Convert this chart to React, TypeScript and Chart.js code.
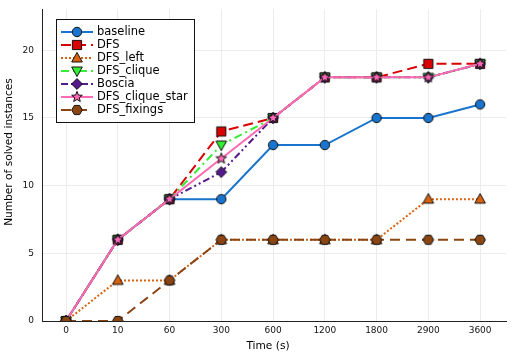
import React, { useEffect, useRef } from "react";
import { Chart, registerables } from "chart.js";

Chart.register(...registerables);

const timeLabels = ["0", "10", "60", "300", "600", "1200", "1800", "2900", "3600"];
const yTickValues = [0, 5, 10, 15, 20];

const seriesNames = ["baseline", "DFS", "DFS_left", "DFS_clique", "Boscia", "DFS_clique_star", "DFS_fixings"];
const baseline = [0, 6, 9, 9, 13, 13, 15, 15, 16];
const dfs = [0, 6, 9, 14, 15, 18, 18, 19, 19];
const dfsLeft = [0, 3, 3, 6, 6, 6, 6, 9, 9];
const dfsClique = [0, 6, 9, 13, 15, 18, 18, 18, 19];
const boscia = [0, 6, 9, 11, 15, 18, 18, 18, 19];
const dfsCliqueStar = [0, 6, 9, 12, 15, 18, 18, 18, 19];
const dfsFixings = [0, 0, 3, 6, 6, 6, 6, 6, 6];

const seriesValues = [baseline, dfs, dfsLeft, dfsClique, boscia, dfsCliqueStar, dfsFixings];
const seriesColors = ["#1874cd", "#d90000", "#d9620f", "#33ee33", "#551a8b", "#ff69b4", "#8b4513"];
const seriesDashes: number[][] = [[], [10, 5], [2, 2], [8, 4, 2, 4], [7, 3, 2, 3, 2, 3], [], [10, 6]];
const seriesMarkers = ["circle", "square", "utriangle", "dtriangle", "diamond", "star5", "hexagon"];

const FONT = "'DejaVu Sans', sans-serif";

function drawMarker(ctx: CanvasRenderingContext2D, shape: string, x: number, y: number, fill: string) {
  ctx.save();
  ctx.beginPath();
  if (shape === "circle") {
    ctx.arc(x, y, 4.7, 0, Math.PI * 2);
  } else if (shape === "square") {
    ctx.rect(x - 4.6, y - 4.6, 9.2, 9.2);
  } else if (shape === "utriangle") {
    ctx.moveTo(x, y - 5.6);
    ctx.lineTo(x + 5.3, y + 4);
    ctx.lineTo(x - 5.3, y + 4);
    ctx.closePath();
  } else if (shape === "dtriangle") {
    ctx.moveTo(x, y + 5.6);
    ctx.lineTo(x + 5.3, y - 4);
    ctx.lineTo(x - 5.3, y - 4);
    ctx.closePath();
  } else if (shape === "diamond") {
    ctx.moveTo(x, y - 5.4);
    ctx.lineTo(x + 5.4, y);
    ctx.lineTo(x, y + 5.4);
    ctx.lineTo(x - 5.4, y);
    ctx.closePath();
  } else if (shape === "star5") {
    for (let k = 0; k < 10; k++) {
      const r = k % 2 === 0 ? 5.6 : 2.4;
      const a = -Math.PI / 2 + (k * Math.PI) / 5;
      const px = x + r * Math.cos(a);
      const py = y + r * Math.sin(a);
      if (k === 0) ctx.moveTo(px, py);
      else ctx.lineTo(px, py);
    }
    ctx.closePath();
  } else if (shape === "hexagon") {
    for (let k = 0; k < 6; k++) {
      const a = (k * Math.PI) / 3;
      const px = x + 5.3 * Math.cos(a);
      const py = y + 5.3 * Math.sin(a);
      if (k === 0) ctx.moveTo(px, py);
      else ctx.lineTo(px, py);
    }
    ctx.closePath();
  }
  ctx.fillStyle = fill;
  ctx.fill();
  ctx.lineWidth = 1;
  ctx.strokeStyle = "#111";
  ctx.stroke();
  ctx.restore();
}

function makeMarkerImage(shape: string, fill: string): HTMLCanvasElement {
  const c = document.createElement("canvas");
  c.width = 16;
  c.height = 16;
  const ctx = c.getContext("2d")!;
  drawMarker(ctx, shape, 8, 8, fill);
  return c;
}

const overlayPlugin = {
  id: "overlay",
  afterDraw(chart: any) {
    const ctx: CanvasRenderingContext2D = chart.ctx;
    const imgs: HTMLCanvasElement[] = chart.options.plugins.overlay.images;
    // axis titles
    ctx.save();
    ctx.fillStyle = "#000";
    ctx.font = `10.6px ${FONT}`;
    ctx.textAlign = "center";
    ctx.textBaseline = "middle";
    ctx.fillText("Time (s)", 268, 346);
    ctx.translate(9, 152);
    ctx.rotate(-Math.PI / 2);
    ctx.fillText("Number of solved instances", 0, 0);
    ctx.restore();

    // legend
    ctx.save();
    ctx.fillStyle = "#fff";
    ctx.fillRect(56.5, 19.5, 138, 103);
    ctx.strokeStyle = "#111";
    ctx.lineWidth = 1;
    ctx.strokeRect(56.5, 19.5, 138, 103);
    for (let i = 0; i < seriesNames.length; i++) {
      const cy = 32 + 13 * i;
      ctx.save();
      ctx.strokeStyle = seriesColors[i];
      ctx.lineWidth = 2;
      ctx.setLineDash(seriesDashes[i]);
      ctx.beginPath();
      ctx.moveTo(61, cy);
      ctx.lineTo(93, cy);
      ctx.stroke();
      ctx.restore();
      ctx.drawImage(imgs[i], 77 - 8, cy - 8);
      ctx.fillStyle = "#000";
      ctx.font = `11.5px ${FONT}`;
      ctx.textAlign = "left";
      ctx.textBaseline = "middle";
      ctx.fillText(seriesNames[i], 97, cy + 0.5);
    }
    ctx.restore();
  },
};

export default function App() {
  const canvasRef = useRef<HTMLCanvasElement | null>(null);

  useEffect(() => {
    document.body.style.margin = "0";
    const canvas = canvasRef.current;
    if (!canvas) return;
    const images = seriesMarkers.map((m, i) => makeMarkerImage(m, seriesColors[i]));
    const datasets = seriesNames.map((name, i) => ({
      label: name,
      data: seriesValues[i].map((v, j) => ({ x: j, y: v })),
      borderColor: seriesColors[i],
      backgroundColor: seriesColors[i],
      borderWidth: 2,
      borderDash: seriesDashes[i],
      pointStyle: images[i],
      pointRadius: 5,
      pointHoverRadius: 5,
      tension: 0,
      clip: 0,
      order: seriesNames.length - 1 - i,
    }));

    const chart = new Chart(canvas, {
      type: "line",
      data: { datasets },
      plugins: [overlayPlugin],
      options: {
        responsive: false,
        animation: false,
        devicePixelRatio: 1,
        layout: { padding: { top: 9, right: 9, left: 0, bottom: 0 } },
        plugins: {
          legend: { display: false },
          tooltip: { enabled: false },
          overlay: { images },
        } as any,
        scales: {
          x: {
            type: "linear",
            min: -0.464,
            max: 8.5,
            afterBuildTicks: (s: any) => {
              s.ticks = timeLabels.map((_, i) => ({ value: i }));
            },
            afterFit: (s: any) => {
              s.height = 36;
              s.paddingLeft = 0;
              s.paddingRight = 0;
            },
            ticks: {
              callback: (v: any) => timeLabels[Math.round(Number(v))] ?? "",
              font: { family: FONT, size: 9 },
              color: "#111",
              padding: 4,
              maxRotation: 0,
              autoSkip: false,
            },
            grid: { color: "#ececec", lineWidth: 1, drawTicks: false },
            border: { display: true, color: "#222", width: 1 },
          },
          y: {
            type: "linear",
            min: 0,
            max: 23.05,
            afterBuildTicks: (s: any) => {
              s.ticks = yTickValues.map((v) => ({ value: v }));
            },
            afterFit: (s: any) => {
              s.width = 42;
              s.paddingTop = 0;
              s.paddingBottom = 0;
            },
            ticks: {
              callback: (v: any) => String(v),
              font: { family: FONT, size: 9 },
              color: "#111",
              padding: 8,
            },
            grid: { color: "#ececec", lineWidth: 1, drawTicks: false },
            border: { display: true, color: "#222", width: 1 },
          },
        },
      } as any,
    });
    return () => chart.destroy();
  }, []);

  return (
    <div style={{ position: "fixed", left: 0, top: 0, width: 515, height: 357, background: "#fff" }}>
      <canvas ref={canvasRef} width={515} height={357} style={{ display: "block" }} />
    </div>
  );
}
